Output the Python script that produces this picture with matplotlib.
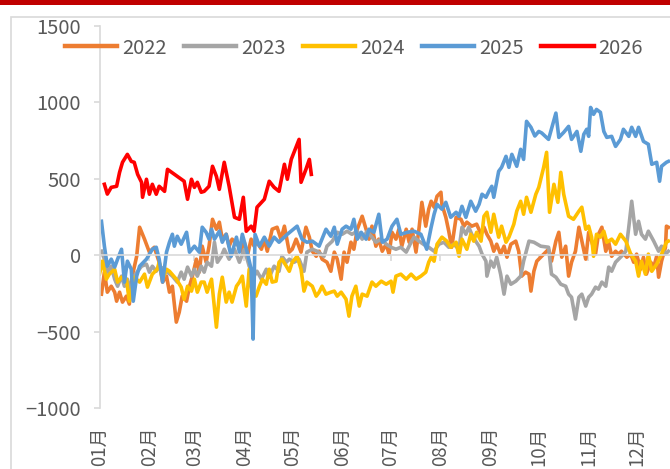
import numpy as np
import matplotlib
matplotlib.use('Agg')
import matplotlib.pyplot as plt
from matplotlib.patches import Rectangle

plt.rcParams['font.family'] = ['Noto Sans CJK SC', 'DejaVu Sans']

# x values are months elapsed since 1 Jan (0 = 1 Jan, 12 = 31 Dec)
x_2022 = [0.04, 0.10, 0.16, 0.24, 0.31, 0.35, 0.41, 0.47, 0.55, 0.61, 0.67, 0.76, 0.82, 0.92, 1.02, 1.12,
          1.22, 1.29, 1.37, 1.43, 1.49, 1.57, 1.63, 1.69, 1.78, 1.84, 1.90, 1.98, 2.04, 2.10, 2.18, 2.24,
          2.31, 2.39, 2.45, 2.51, 2.59, 2.65, 2.71, 2.82, 2.90, 2.96, 3.02, 3.10, 3.16, 3.22, 3.31, 3.37,
          3.43, 3.53, 3.63, 3.71, 3.78, 3.88, 3.94, 4.02, 4.12, 4.22, 4.29, 4.35, 4.43, 4.49, 4.55, 4.65,
          4.73, 4.80, 4.86, 4.94, 5.00, 5.06, 5.14, 5.20, 5.27, 5.37, 5.45, 5.51, 5.57, 5.65, 5.71, 5.78,
          5.86, 5.92, 5.98, 6.06, 6.12, 6.18, 6.27, 6.33, 6.39, 6.47, 6.53, 6.59, 6.67, 6.73, 6.78, 6.84,
          6.90, 6.98, 7.00, 7.08, 7.14, 7.20, 7.29, 7.39, 7.45, 7.51, 7.61, 7.71, 7.80, 7.86, 7.92, 8.00,
          8.06, 8.12, 8.20, 8.27, 8.33, 8.41, 8.51, 8.57, 8.63, 8.71, 8.78, 8.82, 8.88, 8.94, 9.02, 9.12,
          9.18, 9.24, 9.33, 9.39, 9.45, 9.53, 9.59, 9.65, 9.73, 9.80, 9.86, 9.94, 10.00, 10.06, 10.14, 10.20,
          10.27, 10.35, 10.41, 10.47, 10.55, 10.61, 10.67, 10.78, 10.86, 10.92, 10.98, 11.06, 11.12, 11.18,
          11.27, 11.33, 11.39, 11.43, 11.49, 11.57, 11.59, 11.63]
y_2022 = [-255, -111, -242, -203, -242, -301, -242, -307, -268, -320, -137, -7, 183, 105, 20, 52,
          -46, -176, -137, -242, -203, -438, -373, -268, -301, -203, -137, -26, -111, 59, -46, 60,
          235, 170, 216, 105, 137, 59, 105, 72, 26, 85, -7, 105, 59, 85, 39, 105,
          26, 170, 183, 105, 190, 20, 39, 105, 20, 183, 118, 26, -7, 26, -26, -46,
          -105, 20, -26, -157, 20, -46, 85, 39, 170, 255, 170, 105, 190, 59, 105, 26,
          72, 7, 150, 105, 170, 59, 170, 85, 170, 20, 170, 346, 190, 301, 353, 314,
          386, 412, 333, 248, 157, 52, 248, 235, 190, 216, 190, 203, 137, 183, 137, 92,
          26, 72, 7, 59, -13, 72, 92, 26, -137, -111, -124, -235, -105, -39, -13, 20,
          39, -39, 92, 150, -13, 59, -137, -46, 26, 183, 92, -26, 150, 92, 7, 137,
          183, 26, 85, -7, 26, 7, 26, -13, 7, -46, 7, -92, -13, -124,
          -46, -78, -7, -144, -39, 52, 190, 183]

x_2023 = [0.04, 0.10, 0.16, 0.24, 0.31, 0.37, 0.45, 0.51, 0.57, 0.65, 0.71, 0.78, 0.86, 0.96, 1.02, 1.08,
          1.16, 1.22, 1.33, 1.39, 1.49, 1.59, 1.67, 1.73, 1.80, 1.88, 1.94, 2.00, 2.08, 2.14, 2.20, 2.29,
          2.35, 2.41, 2.49, 2.55, 2.65, 2.76, 2.86, 2.96, 3.06, 3.16, 3.22, 3.31, 3.41, 3.47, 3.57, 3.67,
          3.73, 3.82, 3.88, 3.98, 4.08, 4.18, 4.24, 4.35, 4.45, 4.59, 4.65, 4.76, 4.86, 4.96, 5.06, 5.16,
          5.27, 5.37, 5.47, 5.57, 5.65, 5.76, 5.86, 5.96, 6.06, 6.16, 6.27, 6.37, 6.43, 6.53, 6.63, 6.73,
          6.84, 6.94, 7.04, 7.14, 7.24, 7.35, 7.41, 7.49, 7.55, 7.61, 7.69, 7.76, 7.82, 7.90, 7.92, 8.00,
          8.06, 8.12, 8.20, 8.27, 8.33, 8.41, 8.51, 8.61, 8.67, 8.78, 8.88, 9.02, 9.18, 9.24, 9.33, 9.43,
          9.53, 9.59, 9.65, 9.73, 9.80, 9.86, 9.94, 10.00, 10.06, 10.14, 10.20, 10.27, 10.35, 10.41, 10.47, 10.55,
          10.61, 10.67, 10.76, 10.82, 10.88, 10.96, 11.02, 11.08, 11.16, 11.22, 11.33, 11.43, 11.49, 11.57, 11.63]
y_2023 = [26, -26, -111, -72, -157, -203, -137, -203, -157, -242, -137, -105, -72, -59, -111, -72,
          -105, -72, -92, -111, -137, -176, -111, -157, -78, -137, -92, -137, -72, -111, -46, -72,
          85, -46, -7, 39, -26, 39, -46, 39, -72, -137, -105, -157, -92, -144, -72, -105,
          -7, -46, -26, -46, -26, -105, 20, 39, 26, -7, 59, 92, 150, 137, 157, 137,
          157, 105, 157, 118, 85, 105, 72, 52, 39, 52, 20, 85, 118, 92, 70, 52,
          26, 72, 85, 52, 72, 39, 183, 137, 183, 137, 92, 59, 7, -39, -137, -39,
          -78, -13, -124, -255, -137, -190, -170, -137, -39, 92, 85, 59, 52, -124, -144, -190,
          -203, -255, -275, -418, -275, -255, -333, -275, -255, -209, -222, -176, -203, -78, -105, -46,
          -26, -7, 26, 183, 353, 137, 222, 137, 105, 157, 92, 26, 59, 7, 26]

x_2024 = [0.00, 0.06, 0.14, 0.20, 0.31, 0.37, 0.45, 0.55, 0.61, 0.71, 0.82, 0.92, 0.98, 1.08, 1.18, 1.22,
          1.29, 1.37, 1.43, 1.57, 1.67, 1.73, 1.80, 1.88, 1.94, 2.00, 2.08, 2.14, 2.20, 2.29, 2.39, 2.45,
          2.51, 2.59, 2.65, 2.71, 2.80, 2.86, 2.92, 3.00, 3.06, 3.12, 3.20, 3.27, 3.33, 3.41, 3.47, 3.53,
          3.61, 3.67, 3.73, 3.82, 3.88, 3.94, 4.04, 4.12, 4.18, 4.24, 4.35, 4.43, 4.49, 4.55, 4.63, 4.73,
          4.80, 4.86, 4.94, 5.04, 5.10, 5.16, 5.24, 5.31, 5.37, 5.47, 5.57, 5.65, 5.76, 5.86, 5.96, 6.00,
          6.06, 6.16, 6.27, 6.37, 6.47, 6.57, 6.67, 6.73, 6.78, 6.84, 6.90, 7.00, 7.10, 7.18, 7.29, 7.35,
          7.41, 7.51, 7.59, 7.65, 7.71, 7.80, 7.86, 7.92, 8.00, 8.06, 8.16, 8.22, 8.31, 8.37, 8.47, 8.53,
          8.61, 8.67, 8.73, 8.82, 8.92, 8.98, 9.08, 9.14, 9.20, 9.29, 9.37, 9.43, 9.49, 9.59, 9.69, 9.80,
          9.86, 9.94, 10.00, 10.06, 10.10, 10.16, 10.24, 10.31, 10.37, 10.47, 10.55, 10.65, 10.76, 10.86, 10.96, 11.02,
          11.08, 11.16, 11.22, 11.29, 11.39, 11.49, 11.59, 11.63]
y_2024 = [-124, -39, -157, -124, -92, -176, -144, -157, -301, -144, -176, -124, -209, -124, -92, -46,
          -157, -92, -105, -157, -209, -288, -203, -235, -157, -242, -176, -176, -242, -157, -471, -255,
          -144, -307, -242, -307, -203, -176, -137, -333, -92, -242, -268, -203, -157, -190, -92, -176,
          -170, -46, -26, -72, -105, -46, -7, -92, -235, -176, -203, -268, -242, -203, -255, -242,
          -235, -268, -242, -288, -399, -268, -203, -333, -255, -268, -176, -203, -170, -190, -170, -242,
          -137, -124, -157, -124, -157, -137, -111, -46, -13, -39, 72, 118, 92, 52, 85, -7,
          105, 39, 137, 92, 150, 92, 255, 281, 150, 268, 118, 190, 85, 118, 203, 288,
          353, 268, 379, 281, 399, 444, 575, 673, 281, 464, 346, 542, 399, 255, 235, 288,
          314, 170, 190, 118, -7, 137, 118, 157, 85, 105, 72, 137, 92, 7, -39, -137,
          -39, -124, 7, -105, -59, 7, 85, 92]

x_2025 = [0.04, 0.10, 0.16, 0.24, 0.31, 0.37, 0.45, 0.51, 0.57, 0.65, 0.69, 0.76, 0.82, 0.96, 1.08, 1.16,
          1.22, 1.29, 1.37, 1.43, 1.49, 1.53, 1.59, 1.67, 1.78, 1.84, 1.94, 2.04, 2.10, 2.18, 2.24, 2.29,
          2.35, 2.45, 2.51, 2.59, 2.69, 2.80, 2.86, 2.92, 3.02, 3.10, 3.14, 3.18, 3.27, 3.37, 3.47, 3.57,
          3.67, 3.84, 4.04, 4.14, 4.24, 4.35, 4.49, 4.63, 4.73, 4.80, 4.86, 4.96, 5.04, 5.14, 5.20, 5.27,
          5.35, 5.45, 5.51, 5.61, 5.71, 5.78, 5.88, 5.98, 6.08, 6.16, 6.29, 6.43, 6.57, 6.69, 6.78, 6.84,
          6.90, 7.00, 7.08, 7.18, 7.29, 7.35, 7.41, 7.49, 7.59, 7.69, 7.76, 7.82, 7.90, 7.96, 8.02, 8.06,
          8.16, 8.22, 8.31, 8.37, 8.43, 8.53, 8.61, 8.67, 8.73, 8.82, 8.90, 8.98, 9.04, 9.18, 9.33, 9.39,
          9.49, 9.59, 9.65, 9.76, 9.84, 9.90, 9.96, 10.00, 10.04, 10.10, 10.16, 10.24, 10.31, 10.37, 10.47, 10.55,
          10.65, 10.71, 10.82, 10.88, 10.96, 11.02, 11.12, 11.22, 11.29, 11.39, 11.45, 11.49, 11.59, 11.63]
y_2025 = [222, 59, -72, -26, -78, -26, 39, -176, -39, -92, -301, -137, -72, -26, 39, 52,
          -26, -176, 20, 85, 137, 59, 124, 72, 150, 20, 59, 20, 183, 150, 105, 170,
          105, 157, 85, 137, -7, 118, 20, 137, 20, -92, -549, 137, 59, 118, 59, 118,
          85, 137, 190, 105, 85, 92, 59, 170, 124, 183, 72, 170, 190, 170, 235, 105,
          150, 105, 170, 150, 268, 85, 105, 190, 235, 137, 150, 157, 137, 39, 183, 268,
          333, 301, 346, 248, 281, 255, 320, 248, 353, 288, 333, 399, 379, 418, 451, 379,
          549, 575, 647, 575, 660, 582, 693, 627, 876, 837, 780, 810, 800, 758, 930, 771,
          804, 843, 758, 810, 680, 791, 824, 778, 967, 922, 954, 935, 810, 771, 778, 712,
          758, 824, 778, 837, 778, 837, 745, 726, 595, 608, 484, 582, 608, 614]

x_2026 = [0.10, 0.16, 0.24, 0.35, 0.41, 0.47, 0.57, 0.65, 0.71, 0.78, 0.86, 0.88, 0.96, 1.02, 1.08, 1.16,
          1.22, 1.33, 1.39, 1.59, 1.73, 1.80, 1.88, 1.94, 2.00, 2.08, 2.14, 2.24, 2.31, 2.39, 2.45, 2.55,
          2.65, 2.76, 2.86, 2.94, 3.00, 3.10, 3.16, 3.22, 3.37, 3.47, 3.57, 3.67, 3.78, 3.84, 3.92, 4.08,
          4.12, 4.22, 4.29, 4.33]
y_2026 = [464, 400, 444, 451, 542, 608, 660, 614, 608, 529, 477, 379, 497, 399, 464, 399,
          451, 418, 562, 516, 484, 366, 497, 444, 477, 412, 418, 451, 582, 516, 431, 608,
          451, 248, 235, 379, 157, 190, 157, 314, 366, 484, 444, 418, 595, 497, 627, 758,
          477, 562, 627, 529]

years = ['2022', '2023', '2024', '2025', '2026']
colors = ['#ED7D31', '#A5A5A5', '#FFC000', '#5B9BD5', '#FF0000']
month_labels = ['%02d月' % m for m in range(1, 13)]
days_in_month = [31, 28, 31, 30, 31, 30, 31, 31, 30, 31, 30, 31]

text_color = '#595959'
line_color = '#D9D9D9'

fig = plt.figure(figsize=(6.7, 4.69), dpi=100)
# dark red band on top and light frame round the chart area
fig.patches.append(Rectangle((0, 1 - 5 / 469), 1, 5 / 469, transform=fig.transFigure,
                             facecolor='#C00000', edgecolor='none'))
fig.patches.append(Rectangle((11 / 670, -0.1), 1.2, 1.1 - 17 / 469, transform=fig.transFigure,
                             facecolor='none', edgecolor=line_color, lw=1.2))

ax = fig.add_axes([99.5 / 670, 1 - 408 / 469, 587 / 670, 382 / 469])
series = [(x_2022, y_2022), (x_2023, y_2023), (x_2024, y_2024), (x_2025, y_2025), (x_2026, y_2026)]
for (xs, ys), year, c in zip(series, years, colors):
    ax.plot(xs, ys, color=c, lw=2.6, label=year, solid_joinstyle='round')

ax.set_xlim(0, 12)
ax.set_ylim(-1000, 1500)
ax.set_yticks([-1000, -500, 0, 500, 1000, 1500])
ax.set_yticklabels(['−1000', '−500', '0', '500', '1000', '1500'])

month_starts = np.cumsum([0] + days_in_month[:-1]) / (365 / 12)
ax.set_xticks(month_starts)
ax.set_xticklabels(month_labels)

for s in ['top', 'right']:
    ax.spines[s].set_visible(False)
ax.spines['bottom'].set_position(('data', 0))
ax.spines['bottom'].set_color(line_color)
ax.spines['left'].set_color(line_color)
ax.spines['bottom'].set_linewidth(1.2)
ax.spines['left'].set_linewidth(1.2)
ax.tick_params(axis='y', direction='out', length=4.5, width=1.2, color=line_color,
               labelcolor=text_color, labelsize=14.5, pad=9)
ax.tick_params(axis='x', direction='out', length=4.5, width=1.2, color=line_color,
               labelcolor=text_color, labelsize=13.5, pad=119, labelrotation=90)

leg = fig.legend(loc='center', bbox_to_anchor=(354 / 670, 1 - 48 / 469), ncol=5, frameon=False,
                 handlelength=2.6, handletextpad=0.25, columnspacing=0.85,
                 prop={'size': 14.5})
for t in leg.get_texts():
    t.set_color(text_color)
for h in leg.get_lines():
    h.set_linewidth(3.2)

fig.savefig('out.png', dpi=100)
